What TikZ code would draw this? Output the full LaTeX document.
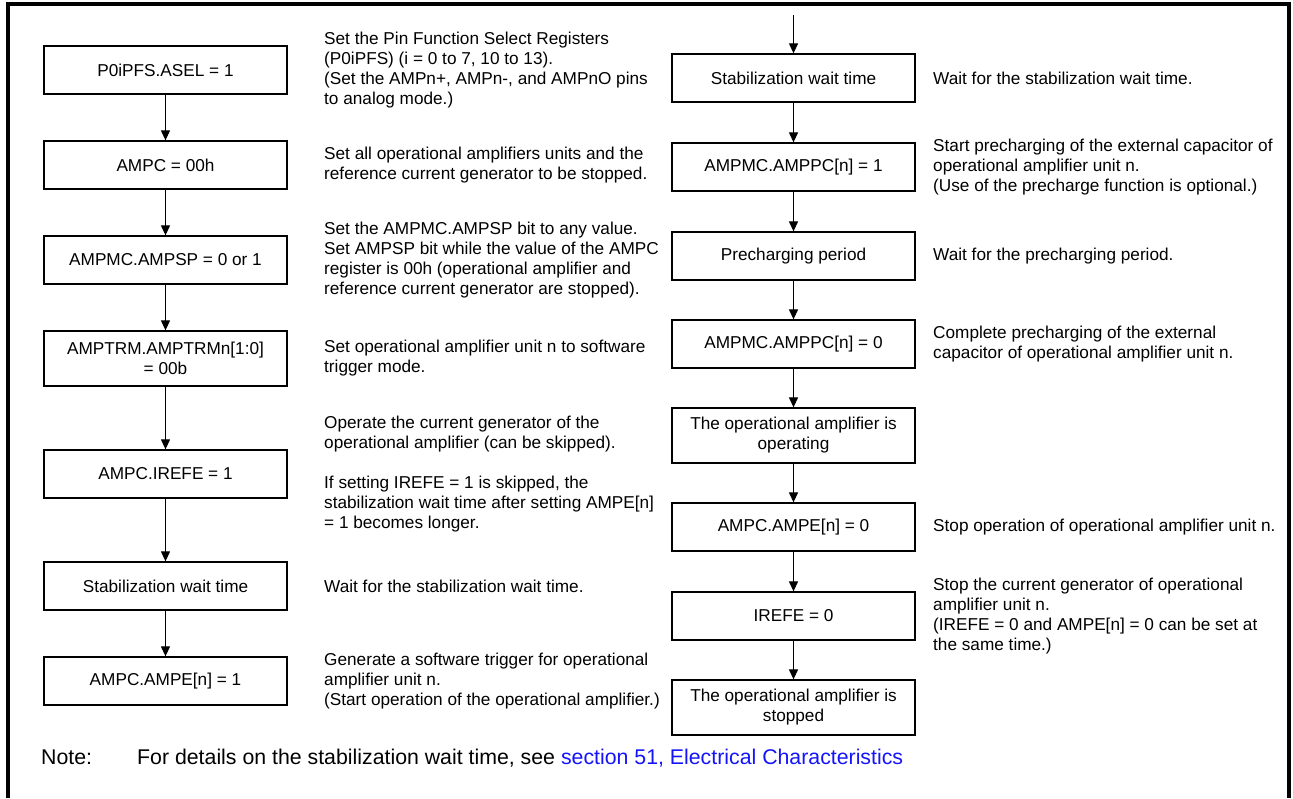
\documentclass[tikz,border=0pt]{standalone}
\usepackage{fontspec}
\setmainfont{Liberation Sans}
\usetikzlibrary{arrows.meta}
\definecolor{linkblue}{RGB}{20,20,250}
\begin{document}
\begin{tikzpicture}[x=1pt,y=-1pt,
  font=\fontsize{17.2}{20}\selectfont,
  stepbox/.style={draw,line width=1.3pt,minimum width=243pt,minimum height=48pt,align=center,inner sep=2pt},
  tallbox/.style={stepbox,minimum height=55pt},
  remark/.style={anchor=west,align=left,inner sep=0pt},
  notefont/.style={anchor=base west,inner sep=0pt,font=\fontsize{21.3}{24}\selectfont},
  flow/.style={line width=1.2pt,-{Triangle[length=10pt,width=9pt]}}]
\useasboundingbox (0,0) rectangle (1293,798);
\draw[line width=4pt] (8,798) -- (8,4) -- (1289,4) -- (1289,798);
\node[stepbox] (pfs) at (165.5,70) {P0iPFS.ASEL = 1};
\node[stepbox] (ampc) at (165.5,165) {AMPC = 00h};
\node[stepbox] (ampsp) at (165.5,260) {AMPMC.AMPSP = 0 or 1};
\node[tallbox] (trm) at (165.5,358.5) {AMPTRM.AMPTRMn[1:0]\\= 00b};
\node[stepbox] (irefe) at (165.5,474) {AMPC.IREFE = 1};
\node[stepbox] (stabA) at (165.5,586) {Stabilization wait time};
\node[stepbox] (ampeOn) at (165.5,681) {AMPC.AMPE[n] = 1};
\draw[flow] (pfs) -- (ampc);
\draw[flow] (ampc) -- (ampsp);
\draw[flow] (ampsp) -- (trm);
\draw[flow] (trm) -- (irefe);
\draw[flow] (irefe) -- (stabA);
\draw[flow] (stabA) -- (ampeOn);
\node[remark] (dPfs) at (324,70) {Set the Pin Function Select Registers\\(P0iPFS) (i = 0 to 7, 10 to 13).\\(Set the AMPn+, AMPn-, and AMPnO pins\\to analog mode.)};
\node[remark] (dAmpc) at (324,165) {Set all operational amplifiers units and the\\reference current generator to be stopped.};
\node[remark] (dAmpsp) at (324,260) {Set the AMPMC.AMPSP bit to any value.\\Set AMPSP bit while the value of the AMPC\\register is 00h (operational amplifier and\\reference current generator are stopped).};
\node[remark] (dTrm) at (324,358.5) {Set operational amplifier unit n to software\\trigger mode.};
\node[remark] (dIrefe) at (324,474) {Operate the current generator of the\\operational amplifier (can be skipped).\\[20pt]If setting IREFE = 1 is skipped, the\\stabilization wait time after setting AMPE[n]\\= 1 becomes longer.};
\node[remark] (dStabA) at (324,586) {Wait for the stabilization wait time.};
\node[remark] (dAmpeOn) at (324,681) {Generate a software trigger for operational\\amplifier unit n.\\(Start operation of the operational amplifier.)};
\coordinate (entry) at (793.5,15);
\node[stepbox] (stabB) at (793.5,78) {Stabilization wait time};
\node[stepbox] (ppcOn) at (793.5,167) {AMPMC.AMPPC[n] = 1};
\node[stepbox] (precharge) at (793.5,256) {Precharging period};
\node[stepbox] (ppcOff) at (793.5,344) {AMPMC.AMPPC[n] = 0};
\node[tallbox] (running) at (793.5,435.5) {The operational amplifier is\\operating};
\node[stepbox] (ampeOff) at (793.5,527) {AMPC.AMPE[n] = 0};
\node[stepbox] (irefeOff) at (793.5,616) {IREFE = 0};
\node[tallbox] (stopped) at (793.5,707.5) {The operational amplifier is\\stopped};
\draw[flow] (entry) -- (stabB);
\draw[flow] (stabB) -- (ppcOn);
\draw[flow] (ppcOn) -- (precharge);
\draw[flow] (precharge) -- (ppcOff);
\draw[flow] (ppcOff) -- (running);
\draw[flow] (running) -- (ampeOff);
\draw[flow] (ampeOff) -- (irefeOff);
\draw[flow] (irefeOff) -- (stopped);
\node[remark] (dStabB) at (933,78) {Wait for the stabilization wait time.};
\node[remark] (dPpcOn) at (933,167) {Start precharging of the external capacitor of\\operational amplifier unit n.\\(Use of the precharge function is optional.)};
\node[remark] (dPrecharge) at (933,256) {Wait for the precharging period.};
\node[remark] (dPpcOff) at (933,344) {Complete precharging of the external\\capacitor of operational amplifier unit n.};
\node[remark] (dAmpeOff) at (933,527) {Stop operation of operational amplifier unit n.};
\node[remark] (dIrefeOff) at (933,616) {Stop the current generator of operational\\amplifier unit n.\\(IREFE = 0 and AMPE[n] = 0 can be set at\\the same time.)};
\node[notefont] (note) at (41,764) {Note:};
\node[notefont] (noteText) at (137,764) {For details on the stabilization wait time, see \textcolor{linkblue}{section 51, Electrical Characteristics}};
\end{tikzpicture}
\end{document}
